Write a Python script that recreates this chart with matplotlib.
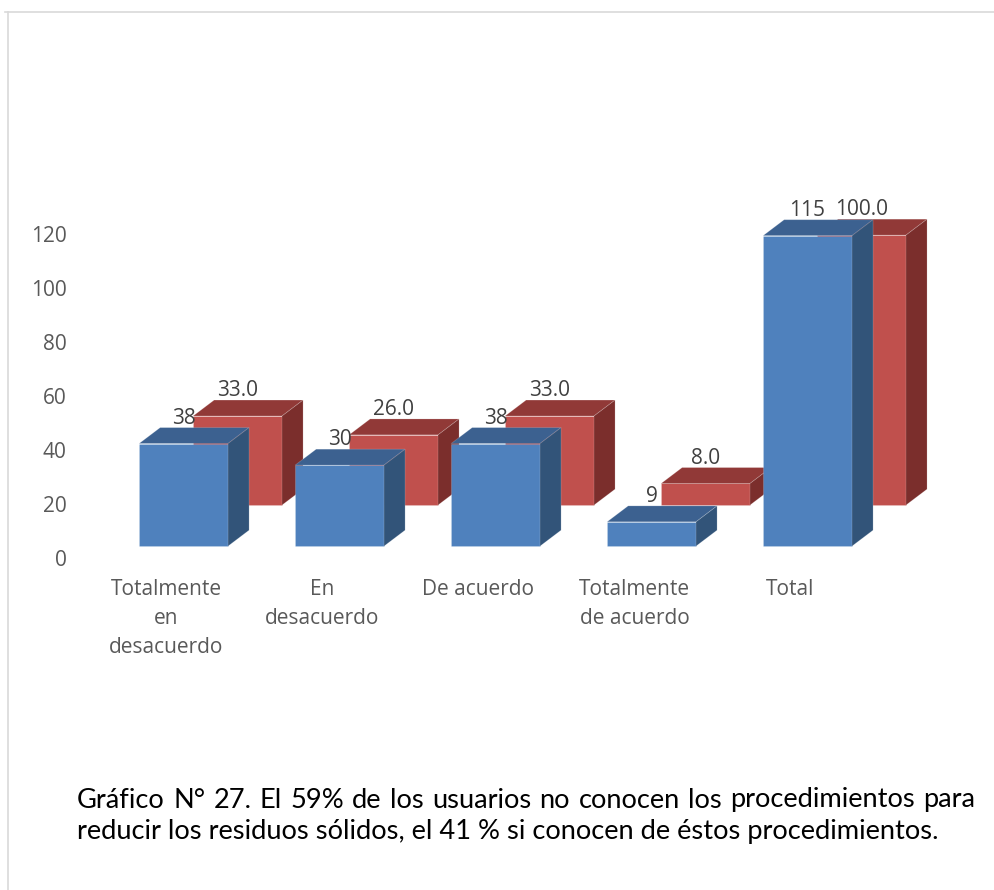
import matplotlib
matplotlib.use("Agg")
import matplotlib.pyplot as plt
from matplotlib.patches import Polygon, Rectangle
import numpy as np

categories = ["Totalmente\nen\ndesacuerdo", "En\ndesacuerdo", "De acuerdo",
              "Totalmente\nde acuerdo", "Total"]
counts = [38, 30, 38, 9, 115]
percents = [33.0, 26.0, 33.0, 8.0, 100.0]
y_ticks = [0, 20, 40, 60, 80, 100, 120]

caption_1 = "Gráfico N° 27. El 59% de los usuarios no conocen los procedimientos para"
caption_2 = "reducir los residuos sólidos, el 41 % si conocen de éstos procedimientos."

# pseudo-3D geometry (data units)
W = 0.57          # bar width
DDX, DDY = 0.135, 5.9    # depth of each box
ROW_DX, ROW_DY = 0.346, 15.2  # offset of the back row
BASE = 4.4

BLUE = ("#4F81BD", "#3C6190", "#325479")
RED = ("#C0504D", "#913937", "#7B2E2C")
EDGE = "#ffffff30"

plt.rcParams["font.family"] = ["Open Sans", "DejaVu Sans"]

fig = plt.figure(figsize=(9.95, 8.9), dpi=100)
W_PX, H_PX = 995, 890
ax = fig.add_axes([75 / W_PX, 1 - 575 / H_PX, 860 / W_PX, 375 / H_PX])
ax.set_xlim(-0.696, 4.817)
ax.set_ylim(-6.3, 132.6)


def box(x, bottom, h, colors, z):
    front, top, side = colors
    x0, x1, t = x - W / 2, x + W / 2, bottom + h
    ax.add_patch(Rectangle((x0, bottom), W, h, facecolor=front,
                           edgecolor=EDGE, lw=0.6, zorder=z))
    ax.add_patch(Polygon([(x0, t), (x0 + DDX, t + DDY), (x1 + DDX, t + DDY), (x1, t)],
                         closed=True, facecolor=top, edgecolor=EDGE, lw=0.6, zorder=z))
    ax.add_patch(Polygon([(x1, bottom), (x1, t), (x1 + DDX, t + DDY), (x1 + DDX, bottom + DDY)],
                         closed=True, facecolor=side, edgecolor=EDGE, lw=0.6, zorder=z))


xs = np.arange(len(categories))
for i, v in enumerate(percents):
    box(xs[i] + ROW_DX, BASE + ROW_DY, v, RED, 1)
    ax.text(xs[i] + ROW_DX, BASE + ROW_DY + v + DDY + 3.5, f"{v:.1f}",
            ha="center", va="center", fontsize=15, color="#404040", zorder=10)
for i, v in enumerate(counts):
    box(xs[i], BASE, v, BLUE, 3)
    ax.text(xs[i], BASE + v + DDY + 3.5, f"{v}",
            ha="center", va="center", fontsize=15, color="#404040", zorder=10)

ax.set_yticks(y_ticks)
ax.set_xticks(xs - 0.11)
ax.set_xticklabels(categories, linespacing=1.5)
ax.tick_params(axis="both", length=0, labelsize=15, labelcolor="#595959")
ax.tick_params(axis="y", pad=6)
ax.tick_params(axis="x", pad=3)
for s in ax.spines.values():
    s.set_visible(False)

# outer frame
fig.add_artist(plt.Line2D([8 / W_PX, 8 / W_PX], [0, 1 - 12 / H_PX], color="#D9D9D9", lw=1.2))
fig.add_artist(plt.Line2D([5 / W_PX, 1], [1 - 12 / H_PX, 1 - 12 / H_PX], color="#D9D9D9", lw=1.2))

# caption, first line justified
cap_font = dict(fontsize=19.6, color="black", family=["Lato", "DejaVu Sans"])
left, right = 77, 975
renderer = fig.canvas.get_renderer()
words = caption_1.split(" ")
widths = []
for w in words:
    t = fig.text(0, 0, w, **cap_font)
    widths.append(t.get_window_extent(renderer).width)
    t.remove()
gap = (right - left - sum(widths)) / (len(words) - 1)
xpos = left
for w, wd in zip(words, widths):
    fig.text(xpos / W_PX, 1 - 800 / H_PX, w, va="center", ha="left", **cap_font)
    xpos += wd + gap
fig.text(left / W_PX, 1 - 832 / H_PX, caption_2, va="center", ha="left", **cap_font)

fig.savefig("out.png", dpi=100)
